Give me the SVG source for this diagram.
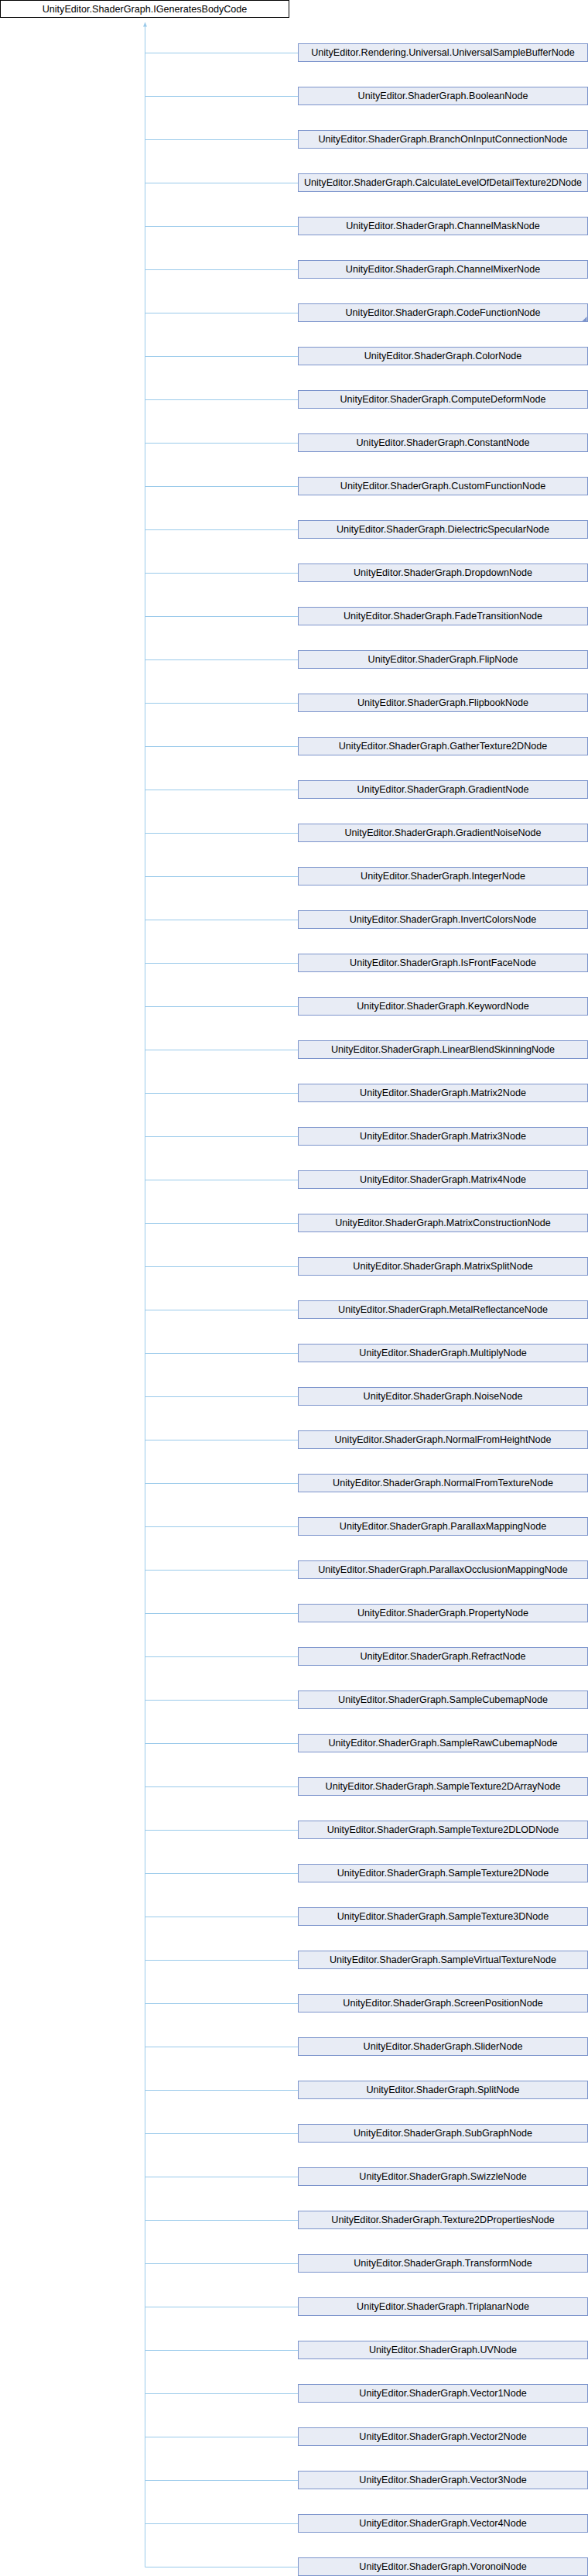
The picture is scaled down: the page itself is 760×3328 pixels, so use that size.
<svg xmlns="http://www.w3.org/2000/svg" width="760" height="3328" viewBox="0 0 760 3328">
<style>
text{font-family:"Liberation Sans",Arial,sans-serif;font-size:12.6px;text-anchor:middle;fill:#000}
.root{fill:#fff;stroke:#000;stroke-width:1}
.n{fill:#E8ECF5;stroke:#7C94CC;stroke-width:1}
.e{fill:none;stroke:#9ACAEA;stroke-width:1}
</style>
<defs>
<marker id="ah" viewBox="0 0 6 6" refX="5.5" refY="3" markerWidth="6" markerHeight="6" orient="auto" markerUnits="userSpaceOnUse">
<path d="M0,0.5 L6,3 L0,5.5 Z" fill="#9ACAEA"/>
</marker>
</defs>
<rect width="760" height="3328" fill="#fff"/>
<g id="connectors">
<path class="e" d="M187.5,3316.5 V29" marker-end="url(#ah)"/>
<path class="e" d="M187.5,68.5 H385 M187.5,124.5 H385 M187.5,180.5 H385 M187.5,236.5 H385 M187.5,292.5 H385 M187.5,348.5 H385 M187.5,404.5 H385 M187.5,460.5 H385 M187.5,516.5 H385 M187.5,572.5 H385 M187.5,628.5 H385 M187.5,684.5 H385 M187.5,740.5 H385 M187.5,796.5 H385 M187.5,852.5 H385 M187.5,908.5 H385 M187.5,964.5 H385 M187.5,1020.5 H385 M187.5,1076.5 H385 M187.5,1132.5 H385 M187.5,1188.5 H385 M187.5,1244.5 H385 M187.5,1300.5 H385 M187.5,1356.5 H385 M187.5,1412.5 H385 M187.5,1468.5 H385 M187.5,1524.5 H385 M187.5,1580.5 H385 M187.5,1636.5 H385 M187.5,1692.5 H385 M187.5,1748.5 H385 M187.5,1804.5 H385 M187.5,1860.5 H385 M187.5,1916.5 H385 M187.5,1972.5 H385 M187.5,2028.5 H385 M187.5,2084.5 H385 M187.5,2140.5 H385 M187.5,2196.5 H385 M187.5,2252.5 H385 M187.5,2308.5 H385 M187.5,2364.5 H385 M187.5,2420.5 H385 M187.5,2476.5 H385 M187.5,2532.5 H385 M187.5,2588.5 H385 M187.5,2644.5 H385 M187.5,2700.5 H385 M187.5,2756.5 H385 M187.5,2812.5 H385 M187.5,2868.5 H385 M187.5,2924.5 H385 M187.5,2980.5 H385 M187.5,3036.5 H385 M187.5,3092.5 H385 M187.5,3148.5 H385 M187.5,3204.5 H385 M187.5,3260.5 H385 M187.5,3316.5 H385"/>
</g>
<g id="root"><rect class="root" x="0.5" y="0.5" width="373" height="22"/><text x="187" y="15.5">UnityEditor.ShaderGraph.IGeneratesBodyCode</text></g>
<g id="n1"><rect class="n" x="385.5" y="56.5" width="374" height="23"/><text x="572.5" y="72">UnityEditor.Rendering.Universal.UniversalSampleBufferNode</text></g>
<g id="n2"><rect class="n" x="385.5" y="112.5" width="374" height="23"/><text x="572.5" y="128">UnityEditor.ShaderGraph.BooleanNode</text></g>
<g id="n3"><rect class="n" x="385.5" y="168.5" width="374" height="23"/><text x="572.5" y="184">UnityEditor.ShaderGraph.BranchOnInputConnectionNode</text></g>
<g id="n4"><rect class="n" x="385.5" y="224.5" width="374" height="23"/><text x="572.5" y="240">UnityEditor.ShaderGraph.CalculateLevelOfDetailTexture2DNode</text></g>
<g id="n5"><rect class="n" x="385.5" y="280.5" width="374" height="23"/><text x="572.5" y="296">UnityEditor.ShaderGraph.ChannelMaskNode</text></g>
<g id="n6"><rect class="n" x="385.5" y="336.5" width="374" height="23"/><text x="572.5" y="352">UnityEditor.ShaderGraph.ChannelMixerNode</text></g>
<g id="n7"><rect class="n" x="385.5" y="392.5" width="374" height="23"/><polygon points="758.5,409 758.5,415 752.5,415" fill="#7C94CC"/><text x="572.5" y="408">UnityEditor.ShaderGraph.CodeFunctionNode</text></g>
<g id="n8"><rect class="n" x="385.5" y="448.5" width="374" height="23"/><text x="572.5" y="464">UnityEditor.ShaderGraph.ColorNode</text></g>
<g id="n9"><rect class="n" x="385.5" y="504.5" width="374" height="23"/><text x="572.5" y="520">UnityEditor.ShaderGraph.ComputeDeformNode</text></g>
<g id="n10"><rect class="n" x="385.5" y="560.5" width="374" height="23"/><text x="572.5" y="576">UnityEditor.ShaderGraph.ConstantNode</text></g>
<g id="n11"><rect class="n" x="385.5" y="616.5" width="374" height="23"/><text x="572.5" y="632">UnityEditor.ShaderGraph.CustomFunctionNode</text></g>
<g id="n12"><rect class="n" x="385.5" y="672.5" width="374" height="23"/><text x="572.5" y="688">UnityEditor.ShaderGraph.DielectricSpecularNode</text></g>
<g id="n13"><rect class="n" x="385.5" y="728.5" width="374" height="23"/><text x="572.5" y="744">UnityEditor.ShaderGraph.DropdownNode</text></g>
<g id="n14"><rect class="n" x="385.5" y="784.5" width="374" height="23"/><text x="572.5" y="800">UnityEditor.ShaderGraph.FadeTransitionNode</text></g>
<g id="n15"><rect class="n" x="385.5" y="840.5" width="374" height="23"/><text x="572.5" y="856">UnityEditor.ShaderGraph.FlipNode</text></g>
<g id="n16"><rect class="n" x="385.5" y="896.5" width="374" height="23"/><text x="572.5" y="912">UnityEditor.ShaderGraph.FlipbookNode</text></g>
<g id="n17"><rect class="n" x="385.5" y="952.5" width="374" height="23"/><text x="572.5" y="968">UnityEditor.ShaderGraph.GatherTexture2DNode</text></g>
<g id="n18"><rect class="n" x="385.5" y="1008.5" width="374" height="23"/><text x="572.5" y="1024">UnityEditor.ShaderGraph.GradientNode</text></g>
<g id="n19"><rect class="n" x="385.5" y="1064.5" width="374" height="23"/><text x="572.5" y="1080">UnityEditor.ShaderGraph.GradientNoiseNode</text></g>
<g id="n20"><rect class="n" x="385.5" y="1120.5" width="374" height="23"/><text x="572.5" y="1136">UnityEditor.ShaderGraph.IntegerNode</text></g>
<g id="n21"><rect class="n" x="385.5" y="1176.5" width="374" height="23"/><text x="572.5" y="1192">UnityEditor.ShaderGraph.InvertColorsNode</text></g>
<g id="n22"><rect class="n" x="385.5" y="1232.5" width="374" height="23"/><text x="572.5" y="1248">UnityEditor.ShaderGraph.IsFrontFaceNode</text></g>
<g id="n23"><rect class="n" x="385.5" y="1288.5" width="374" height="23"/><text x="572.5" y="1304">UnityEditor.ShaderGraph.KeywordNode</text></g>
<g id="n24"><rect class="n" x="385.5" y="1344.5" width="374" height="23"/><text x="572.5" y="1360">UnityEditor.ShaderGraph.LinearBlendSkinningNode</text></g>
<g id="n25"><rect class="n" x="385.5" y="1400.5" width="374" height="23"/><text x="572.5" y="1416">UnityEditor.ShaderGraph.Matrix2Node</text></g>
<g id="n26"><rect class="n" x="385.5" y="1456.5" width="374" height="23"/><text x="572.5" y="1472">UnityEditor.ShaderGraph.Matrix3Node</text></g>
<g id="n27"><rect class="n" x="385.5" y="1512.5" width="374" height="23"/><text x="572.5" y="1528">UnityEditor.ShaderGraph.Matrix4Node</text></g>
<g id="n28"><rect class="n" x="385.5" y="1568.5" width="374" height="23"/><text x="572.5" y="1584">UnityEditor.ShaderGraph.MatrixConstructionNode</text></g>
<g id="n29"><rect class="n" x="385.5" y="1624.5" width="374" height="23"/><text x="572.5" y="1640">UnityEditor.ShaderGraph.MatrixSplitNode</text></g>
<g id="n30"><rect class="n" x="385.5" y="1680.5" width="374" height="23"/><text x="572.5" y="1696">UnityEditor.ShaderGraph.MetalReflectanceNode</text></g>
<g id="n31"><rect class="n" x="385.5" y="1736.5" width="374" height="23"/><text x="572.5" y="1752">UnityEditor.ShaderGraph.MultiplyNode</text></g>
<g id="n32"><rect class="n" x="385.5" y="1792.5" width="374" height="23"/><text x="572.5" y="1808">UnityEditor.ShaderGraph.NoiseNode</text></g>
<g id="n33"><rect class="n" x="385.5" y="1848.5" width="374" height="23"/><text x="572.5" y="1864">UnityEditor.ShaderGraph.NormalFromHeightNode</text></g>
<g id="n34"><rect class="n" x="385.5" y="1904.5" width="374" height="23"/><text x="572.5" y="1920">UnityEditor.ShaderGraph.NormalFromTextureNode</text></g>
<g id="n35"><rect class="n" x="385.5" y="1960.5" width="374" height="23"/><text x="572.5" y="1976">UnityEditor.ShaderGraph.ParallaxMappingNode</text></g>
<g id="n36"><rect class="n" x="385.5" y="2016.5" width="374" height="23"/><text x="572.5" y="2032">UnityEditor.ShaderGraph.ParallaxOcclusionMappingNode</text></g>
<g id="n37"><rect class="n" x="385.5" y="2072.5" width="374" height="23"/><text x="572.5" y="2088">UnityEditor.ShaderGraph.PropertyNode</text></g>
<g id="n38"><rect class="n" x="385.5" y="2128.5" width="374" height="23"/><text x="572.5" y="2144">UnityEditor.ShaderGraph.RefractNode</text></g>
<g id="n39"><rect class="n" x="385.5" y="2184.5" width="374" height="23"/><text x="572.5" y="2200">UnityEditor.ShaderGraph.SampleCubemapNode</text></g>
<g id="n40"><rect class="n" x="385.5" y="2240.5" width="374" height="23"/><text x="572.5" y="2256">UnityEditor.ShaderGraph.SampleRawCubemapNode</text></g>
<g id="n41"><rect class="n" x="385.5" y="2296.5" width="374" height="23"/><text x="572.5" y="2312">UnityEditor.ShaderGraph.SampleTexture2DArrayNode</text></g>
<g id="n42"><rect class="n" x="385.5" y="2352.5" width="374" height="23"/><text x="572.5" y="2368">UnityEditor.ShaderGraph.SampleTexture2DLODNode</text></g>
<g id="n43"><rect class="n" x="385.5" y="2408.5" width="374" height="23"/><text x="572.5" y="2424">UnityEditor.ShaderGraph.SampleTexture2DNode</text></g>
<g id="n44"><rect class="n" x="385.5" y="2464.5" width="374" height="23"/><text x="572.5" y="2480">UnityEditor.ShaderGraph.SampleTexture3DNode</text></g>
<g id="n45"><rect class="n" x="385.5" y="2520.5" width="374" height="23"/><text x="572.5" y="2536">UnityEditor.ShaderGraph.SampleVirtualTextureNode</text></g>
<g id="n46"><rect class="n" x="385.5" y="2576.5" width="374" height="23"/><text x="572.5" y="2592">UnityEditor.ShaderGraph.ScreenPositionNode</text></g>
<g id="n47"><rect class="n" x="385.5" y="2632.5" width="374" height="23"/><text x="572.5" y="2648">UnityEditor.ShaderGraph.SliderNode</text></g>
<g id="n48"><rect class="n" x="385.5" y="2688.5" width="374" height="23"/><text x="572.5" y="2704">UnityEditor.ShaderGraph.SplitNode</text></g>
<g id="n49"><rect class="n" x="385.5" y="2744.5" width="374" height="23"/><text x="572.5" y="2760">UnityEditor.ShaderGraph.SubGraphNode</text></g>
<g id="n50"><rect class="n" x="385.5" y="2800.5" width="374" height="23"/><text x="572.5" y="2816">UnityEditor.ShaderGraph.SwizzleNode</text></g>
<g id="n51"><rect class="n" x="385.5" y="2856.5" width="374" height="23"/><text x="572.5" y="2872">UnityEditor.ShaderGraph.Texture2DPropertiesNode</text></g>
<g id="n52"><rect class="n" x="385.5" y="2912.5" width="374" height="23"/><text x="572.5" y="2928">UnityEditor.ShaderGraph.TransformNode</text></g>
<g id="n53"><rect class="n" x="385.5" y="2968.5" width="374" height="23"/><text x="572.5" y="2984">UnityEditor.ShaderGraph.TriplanarNode</text></g>
<g id="n54"><rect class="n" x="385.5" y="3024.5" width="374" height="23"/><text x="572.5" y="3040">UnityEditor.ShaderGraph.UVNode</text></g>
<g id="n55"><rect class="n" x="385.5" y="3080.5" width="374" height="23"/><text x="572.5" y="3096">UnityEditor.ShaderGraph.Vector1Node</text></g>
<g id="n56"><rect class="n" x="385.5" y="3136.5" width="374" height="23"/><text x="572.5" y="3152">UnityEditor.ShaderGraph.Vector2Node</text></g>
<g id="n57"><rect class="n" x="385.5" y="3192.5" width="374" height="23"/><text x="572.5" y="3208">UnityEditor.ShaderGraph.Vector3Node</text></g>
<g id="n58"><rect class="n" x="385.5" y="3248.5" width="374" height="23"/><text x="572.5" y="3264">UnityEditor.ShaderGraph.Vector4Node</text></g>
<g id="n59"><rect class="n" x="385.5" y="3304.5" width="374" height="23"/><text x="572.5" y="3320">UnityEditor.ShaderGraph.VoronoiNode</text></g>
</svg>
